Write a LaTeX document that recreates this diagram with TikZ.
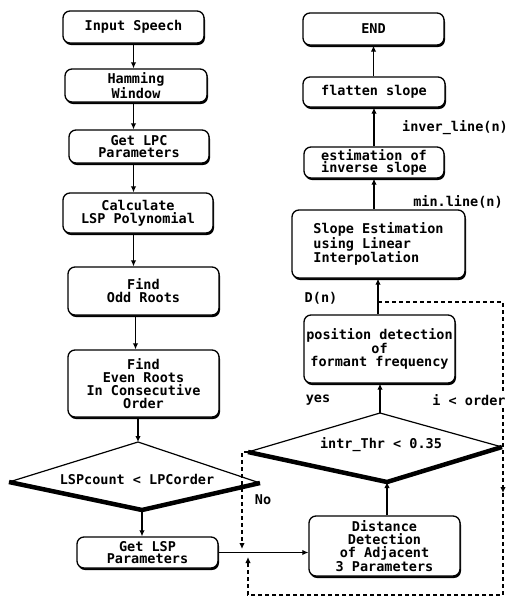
\documentclass[tikz,border=0pt]{standalone}
\usepackage{fontspec}
\setmonofont{DejaVu Sans Mono}
\usetikzlibrary{shadows,arrows.meta,calc}
\begin{document}
\begin{tikzpicture}[x=1pt,y=-1pt,
  font=\ttfamily\bfseries\fontsize{13.5}{12.8}\selectfont,
  box/.style={draw, line width=1.3pt, rounded corners=7pt, fill=white, inner sep=1pt, align=center,
    drop shadow={shadow xshift=1pt, shadow yshift=-2pt, opacity=1, fill=black}},
  arr/.style={line width=1.8pt, -{Latex[length=6pt,width=5.5pt]}},
  dsh/.style={line width=1.5pt, dash pattern=on 4pt off 3pt},
  dsharr/.style={dsh, -{Latex[length=6pt,width=5.5pt]}},
  lbl/.style={inner sep=1pt},
  thinedge/.style={line width=1.2pt},
  thickedge/.style={line width=4.5pt, line join=miter}
]
\useasboundingbox (0,0) rectangle (509,598);
% left column
\node[box, minimum width=141pt, minimum height=32pt] (in) at (133.5,27) {Input Speech};
\node[box, minimum width=142pt, minimum height=33pt] (ham) at (136,85.5) {Hamming\\Window};
\node[box, minimum width=140pt, minimum height=33pt] (lpc) at (139,146.5) {Get LPC\\Parameters};
\node[box, minimum width=150pt, minimum height=40pt] (lsp) at (138,213) {Calculate\\LSP Polynomial};
\node[box, minimum width=151pt, minimum height=48pt] (odd) at (143.5,291) {Find\\Odd Roots};
\node[box, minimum width=151pt, minimum height=67pt] (even) at (143.5,383.5) {Find\\Even Roots\\In Consecutive\\Order};
% diamond 1
\coordinate (d1w) at (9,482);
\coordinate (d1n) at (138,442);
\coordinate (d1e) at (260,483);
\coordinate (d1s) at (142,510);
\draw[thinedge] (d1w) -- (d1n) -- (d1e);
\draw[thickedge] (d1w) -- (d1s) -- (d1e);
\node[lbl] (d1) at (137,479) {LSPcount < LPCorder};
\node[box, minimum width=141pt, minimum height=31pt] (getlsp) at (147.5,552.5) {Get LSP\\Parameters};
% right column
\node[box, minimum width=151pt, minimum height=60pt] (dist) at (384.5,546) {Distance\\Detection\\of Adjacent\\3 Parameters};
\coordinate (d2w) at (248,452);
\coordinate (d2n) at (380,413);
\coordinate (d2e) at (502,447);
\coordinate (d2s) at (387,482);
\draw[thinedge] (d2w) -- (d2n) -- (d2e);
\draw[thickedge] (d2w) -- (d2s) -- (d2e);
\node[lbl] (d2) at (381,445) {intr\_Thr < 0.35};
\node[box, minimum width=151pt, minimum height=68pt] (pos) at (379.5,349) {position detection\\of\\formant frequency};
\node[box, minimum width=173pt, minimum height=68pt, align=left] (slope) at (378.5,244) {Slope Estimation\\using Linear\\Interpolation};
\node[box, minimum width=140pt, minimum height=31pt] (est) at (374,162.5) {estimation of\\inverse slope};
\node[box, minimum width=142pt, minimum height=30pt] (flat) at (374,92) {flatten slope};
\node[box, minimum width=141pt, minimum height=32pt] (end) at (373.5,29) {END};
% arrows left
\draw[arr] (in.south) -- (in.south |- ham.north);
\draw[arr] (ham.south -| in.south) -- (lpc.north -| in.south);
\draw[arr] (lpc.south -| in.south) -- (lsp.north -| in.south);
\draw[arr] (lsp.south -| in.south) -- (odd.north -| in.south);
\draw[arr] ($(odd.south -| in.south)+(2,0)$) -- ($(even.north -| in.south)+(2,0)$);
\draw[arr] (even.south -| d1n) -- (d1n);
\draw[arr] (d1s) -- (d1s |- getlsp.north);
\draw[arr] (getlsp.east) -- (getlsp.east -| dist.west);
% arrows right
\draw[arr] (dist.north -| d2s) -- (d2s);
\draw[arr] (d2n) -- (d2n |- pos.south);
\draw[arr] ($(pos.north)+(-1.5,0)$) -- ($(slope.south -| pos.north)+(-1.5,0)$);
\draw[arr] (slope.north -| est) -- (est.south);
\draw[arr] (est.north -| flat) -- (flat.south);
\draw[arr] (flat.north -| end) -- (end.south);
% dashed loop
\coordinate (j1) at (378,302);
\coordinate (c1) at (503,302);
\coordinate (m1) at (503,493);
\coordinate (c2) at (503,595);
\coordinate (c3) at (248,595);
\coordinate (c4) at (248,557);
\draw[dsharr] (j1) -- (c1) -- (m1);
\draw[dsharr] (m1) -- (c2) -- (c3) -- (c4);
% No branch
\coordinate (n1) at (242,452);
\coordinate (n2) at (242,549);
\draw[dsharr] (d2w) -- (n1) -- (n2);
% labels
\node[lbl] (no) at (263,500) {No};
\node[lbl] (yes) at (318,400) {yes};
\node[lbl, fill=white] (ord) at (469,400) {i < order};
\node[lbl] (dn) at (321,298) {D(n)};
\node[lbl] (minl) at (458,202) {min.line(n)};
\node[lbl] (invl) at (455,128) {inver\_line(n)};
\end{tikzpicture}
\end{document}
